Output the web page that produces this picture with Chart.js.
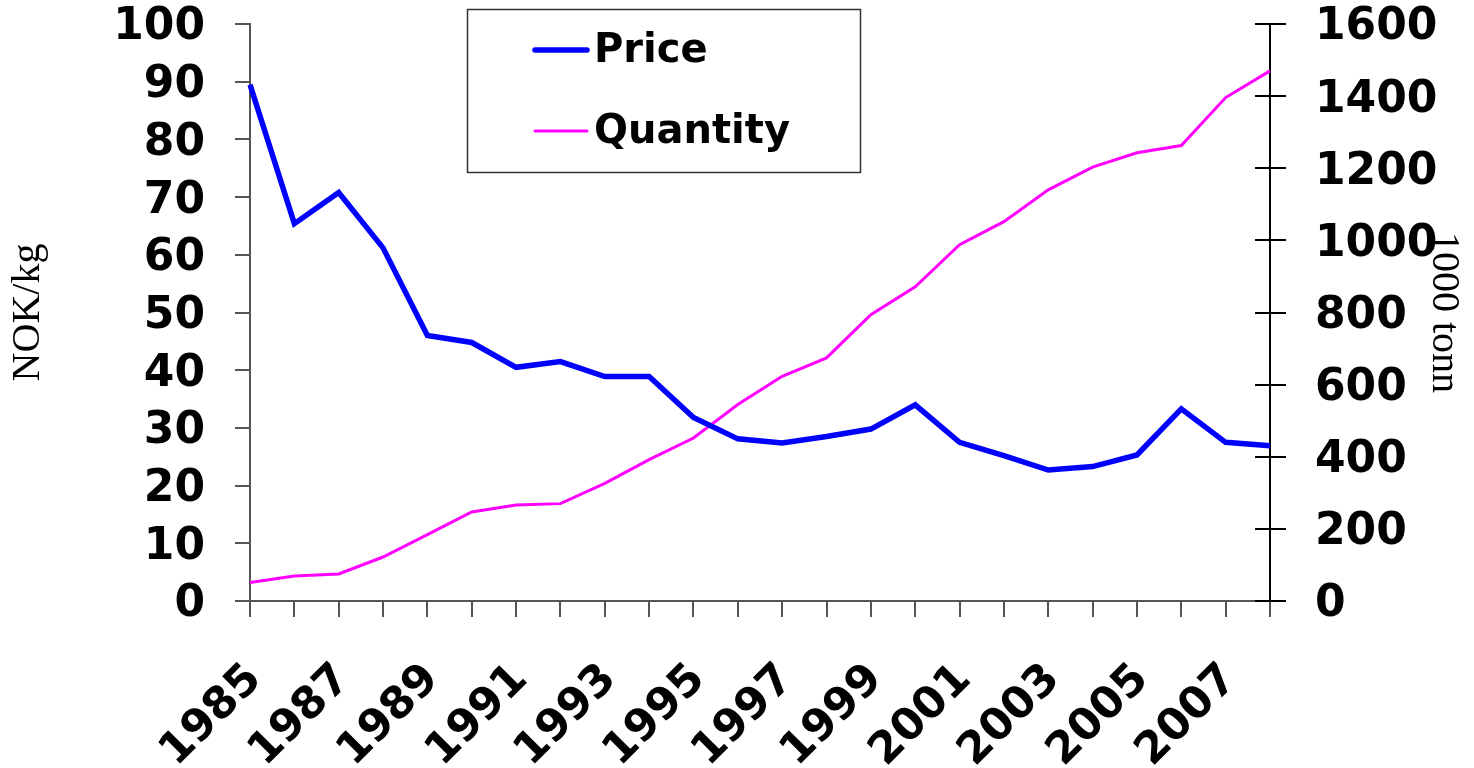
<!DOCTYPE html>
<html>
<head>
<meta charset="utf-8">
<script src="https://cdn.jsdelivr.net/npm/chart.js@4.4.1/dist/chart.umd.min.js"></script>
<style>
  html, body { margin: 0; padding: 0; background: #fff; }
  #wrap { width: 1474px; height: 768px; position: relative; }
</style>
</head>
<body>
<div id="wrap"><canvas id="priceChart"></canvas></div>
<script>
// Years on the x axis
const years = ['1985', '1986', '1987', '1988', '1989', '1990', '1991', '1992',
               '1993', '1994', '1995', '1996', '1997', '1998', '1999', '2000',
               '2001', '2002', '2003', '2004', '2005', '2006', '2007', '2008'];

// Price, NOK/kg (left axis)
const price = [89.5, 65.4, 70.8, 61.2, 46.0, 44.8, 40.5, 41.5,
               38.9, 38.9, 31.8, 28.1, 27.4, 28.5, 29.8, 34.0,
               27.5, 25.2, 22.7, 23.3, 25.3, 33.3, 27.5, 26.9];

// Quantity, 1000 tonn (right axis)
const quantity = [51, 69, 75, 122, 184, 247, 266, 270,
                  326, 392, 452, 545, 623, 674, 794, 871,
                  988, 1052, 1140, 1203, 1243, 1263, 1396, 1470];

const tickFont = { family: 'DejaVu Sans', weight: 'bold', size: 44, lineHeight: 1 };
const titleFont = { family: 'Liberation Serif', size: 40 };

// fixed box sizes so the plot area sits where it does in the original
function fixWidth(w) {
    return (scale) => {
        scale.width = w;
        scale.paddingTop = 0;
        scale.paddingBottom = 0;
    };
}

// draws the inner half of the right axis ticks and the boxed legend
const extrasPlugin = {
    id: 'extras',
    afterDraw(chart) {
        const ctx = chart.ctx;
        const y1 = chart.scales.y1;
        ctx.save();
        ctx.strokeStyle = '#000';
        ctx.lineWidth = 2;
        y1.ticks.forEach((t, i) => {
            const py = Math.round(y1.getPixelForTick(i));
            ctx.beginPath();
            ctx.moveTo(y1.left - 15, py);
            ctx.lineTo(y1.left, py);
            ctx.stroke();
        });

        // legend box
        ctx.strokeStyle = '#333';
        ctx.lineWidth = 1.5;
        ctx.strokeRect(467.5, 9.5, 393, 163);
        const rows = [50, 131];
        chart.data.datasets.forEach((ds, i) => {
            ctx.strokeStyle = ds.borderColor;
            ctx.lineWidth = ds.borderWidth;
            ctx.lineCap = 'round';
            ctx.beginPath();
            ctx.moveTo(535, rows[i]);
            ctx.lineTo(587, rows[i]);
            ctx.stroke();
            ctx.fillStyle = '#000';
            ctx.font = 'bold 40px "DejaVu Sans"';
            ctx.textBaseline = 'middle';
            ctx.fillText(ds.label, 594, rows[i] + 2);
        });
        ctx.restore();
    }
};

new Chart(document.getElementById('priceChart').getContext('2d'), {
    type: 'line',
    data: {
        labels: years,
        datasets: [
            {
                label: 'Price',
                data: price,
                yAxisID: 'y',
                borderColor: '#0000ff',
                borderWidth: 5.5,
                pointRadius: 0,
                tension: 0,
                fill: false,
            },
            {
                label: 'Quantity',
                data: quantity,
                yAxisID: 'y1',
                borderColor: '#ff00ff',
                borderWidth: 3,
                pointRadius: 0,
                tension: 0,
                fill: false,
            },
        ],
    },
    options: {
        responsive: true,
        maintainAspectRatio: false,
        animation: false,
        layout: { padding: { top: 24, left: 0, right: 0, bottom: 0 } },
        plugins: {
            legend: { display: false },
            tooltip: { enabled: false },
        },
        scales: {
            x: {
                offset: false,
                grid: { drawOnChartArea: false, drawTicks: true, tickLength: 16, color: '#555', lineWidth: 2, offset: false },
                border: { display: true, color: '#555', width: 2 },
                ticks: {
                    autoSkip: false,
                    minRotation: 45,
                    maxRotation: 45,
                    padding: 40,
                    labelOffset: 5,
                    color: '#000',
                    font: tickFont,
                    callback: function (value, index) {
                        return index % 2 === 0 ? this.getLabelForValue(value) : '';
                    },
                },
                afterFit: (scale) => { scale.height = 167; },
            },
            y: {
                position: 'left',
                min: 0,
                max: 100,
                grid: { drawOnChartArea: false, drawTicks: true, tickLength: 15, color: '#555', lineWidth: 2 },
                border: { display: true, color: '#555', width: 2 },
                ticks: { stepSize: 10, padding: 30, labelOffset: 4, color: '#000', font: tickFont },
                title: { display: true, text: 'NOK/kg', color: '#000', font: titleFont, padding: { top: 4, bottom: 0 } },
                afterFit: fixWidth(250),
            },
            y1: {
                position: 'right',
                min: 0,
                max: 1600,
                grid: { drawOnChartArea: false, drawTicks: true, tickLength: 16, color: '#000', lineWidth: 2 },
                border: { display: true, color: '#000', width: 2 },
                ticks: { stepSize: 200, padding: 29, labelOffset: 4, color: '#000', font: tickFont, callback: (v) => String(v) },
                title: { display: true, text: '1000 tonn', color: '#000', font: titleFont, padding: { top: 7, bottom: 0 } },
                afterFit: fixWidth(204),
            },
        },
    },
    plugins: [extrasPlugin],
});
</script>
</body>
</html>
